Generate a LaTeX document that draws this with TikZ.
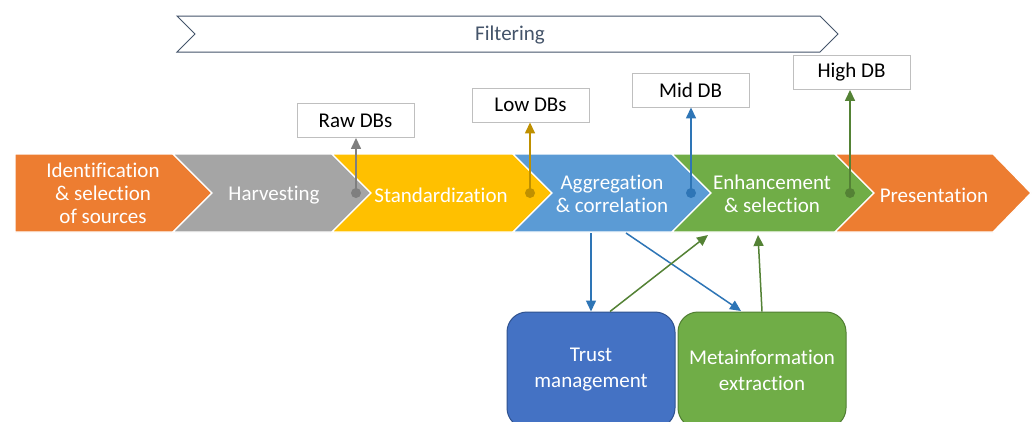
\documentclass[tikz,border=0pt]{standalone}
\usepackage{fontspec}
\setmainfont{Carlito}[Ligatures={NoCommon}]
\usetikzlibrary{arrows.meta}
\definecolor{corange}{HTML}{ED7D31}
\definecolor{cgray}{HTML}{A5A5A5}
\definecolor{cgrayd}{HTML}{7F7F7F}
\definecolor{cyellow}{HTML}{FFC000}
\definecolor{cyellowd}{HTML}{BF9000}
\definecolor{cblue}{HTML}{5B9BD5}
\definecolor{cblued}{HTML}{2E75B6}
\definecolor{cgreen}{HTML}{70AD47}
\definecolor{cgreend}{HTML}{548235}
\definecolor{cslate}{HTML}{44546A}
\definecolor{ctrust}{HTML}{4472C4}
\definecolor{ctrustd}{HTML}{2F528F}
\definecolor{cmetad}{HTML}{507E32}
\definecolor{cboxline}{HTML}{BFBFBF}
\tikzset{
  chev/.style={draw=white, line width=1.3pt, line join=miter},
  steptext/.style={text=white, align=center, font=\fontsize{21}{23}\selectfont, inner sep=0pt},
  dbbox/.style={draw=cboxline, line width=0.9pt, fill=white, minimum width=117pt, minimum height=34pt, inner sep=0pt, font=\fontsize{21}{23}\selectfont},
  dbdot/.style={circle, minimum size=10pt, inner sep=0pt},
  arr/.style={line width=1.5pt, -{Triangle[length=11pt,width=10pt]}},
  bigbox/.style={rounded corners=20pt, line width=1pt, minimum width=168pt, minimum height=116pt, text=white, align=center, font=\fontsize{21}{26}\selectfont},
}
\begin{document}
\begin{tikzpicture}[x=1pt,y=-1pt]
\useasboundingbox (0,0) rectangle (1032,421);
\clip (0,0) rectangle (1032,421);
% Filtering arrow
\fill[white] (0,0) rectangle (1032,421);
\draw[fill=white, draw=cslate, line width=1pt] (177,16) -- (820,16) -- (838,34) -- (820,52) -- (177,52) -- (195,34) -- cycle;
\node[text=cslate, font=\fontsize{21}{23}\selectfont] (filtering) at (510,35) {Filtering};
% chevrons
\path[chev, fill=corange] (15,154) -- (173,154) -- (212,193) -- (173,232) -- (15,232) -- cycle;
\path[chev, fill=cgray] (173,154) -- (332,154) -- (371,193) -- (332,232) -- (173,232) -- (212,193) -- cycle;
\path[chev, fill=cyellow] (332,154) -- (513,154) -- (552,193) -- (513,232) -- (332,232) -- (371,193) -- cycle;
\path[chev, fill=cblue] (513,154) -- (672,154) -- (711,193) -- (672,232) -- (513,232) -- (552,193) -- cycle;
\path[chev, fill=cgreen] (672,154) -- (835,154) -- (874,193) -- (835,232) -- (672,232) -- (711,193) -- cycle;
\path[chev, fill=corange] (835,154) -- (993,154) -- (1031,193) -- (993,232) -- (835,232) -- (874,193) -- cycle;
\node[steptext] (ident) at (103,193) {Identification\\\& selection\\of sources};
\node[steptext] (harv) at (274,195) {Harvesting};
\node[steptext] (stand) at (441,195) {Standardization};
\node[steptext] (aggr) at (612,194) {Aggregation\\\& correlation};
\node[steptext] (enh) at (772,194) {Enhancement\\\& selection};
\node[steptext] (pres) at (934,195) {Presentation};
% DB boxes
\node[dbbox] (raw) at (355.5,120.5) {Raw DBs};
\node[dbbox] (low) at (530.5,105) {Low DBs};
\node[dbbox] (mid) at (690.5,90) {Mid DB};
\node[dbbox] (high) at (851.5,72.5) {High DB};
\coordinate (p1) at (356,193);
\coordinate (p2) at (530,193);
\coordinate (p3) at (691,193);
\coordinate (p4) at (850,193);
\draw[arr, draw=cgrayd, fill=cgrayd] (p1) -- (p1 |- raw.south);
\draw[arr, draw=cyellowd, fill=cyellowd] (p2) -- (p2 |- low.south);
\draw[arr, draw=cblued, fill=cblued] (p3) -- (p3 |- mid.south);
\draw[arr, draw=cgreend, fill=cgreend] (p4) -- (p4 |- high.south);
\node[dbdot, fill=cgrayd] (d1) at (p1) {};
\node[dbdot, fill=cyellowd] (d2) at (p2) {};
\node[dbdot, fill=cblued] (d3) at (p3) {};
\node[dbdot, fill=cgreend] (d4) at (p4) {};
% bottom boxes
\node[bigbox, fill=ctrust, draw=ctrustd] (trust) at (591,370) {Trust\\management};
\node[bigbox, fill=cgreen, draw=cmetad] (meta) at (762,370) {Metainformation\\extraction};
\coordinate (a1) at (591,233);
\coordinate (a2) at (626,233);
\coordinate (a2e) at (741,311);
\coordinate (g1) at (708,235);
\coordinate (g2) at (758,235);
\draw[arr, draw=cblued, fill=cblued] (a1) -- (trust.north);
\draw[arr, draw=cblued, fill=cblued] (a2) -- (a2e);
\draw[arr, draw=cgreend, fill=cgreend] ([xshift=19pt]trust.north) -- (g1);
\draw[arr, draw=cgreend, fill=cgreend] (meta.north) -- (g2);
\end{tikzpicture}
\end{document}
